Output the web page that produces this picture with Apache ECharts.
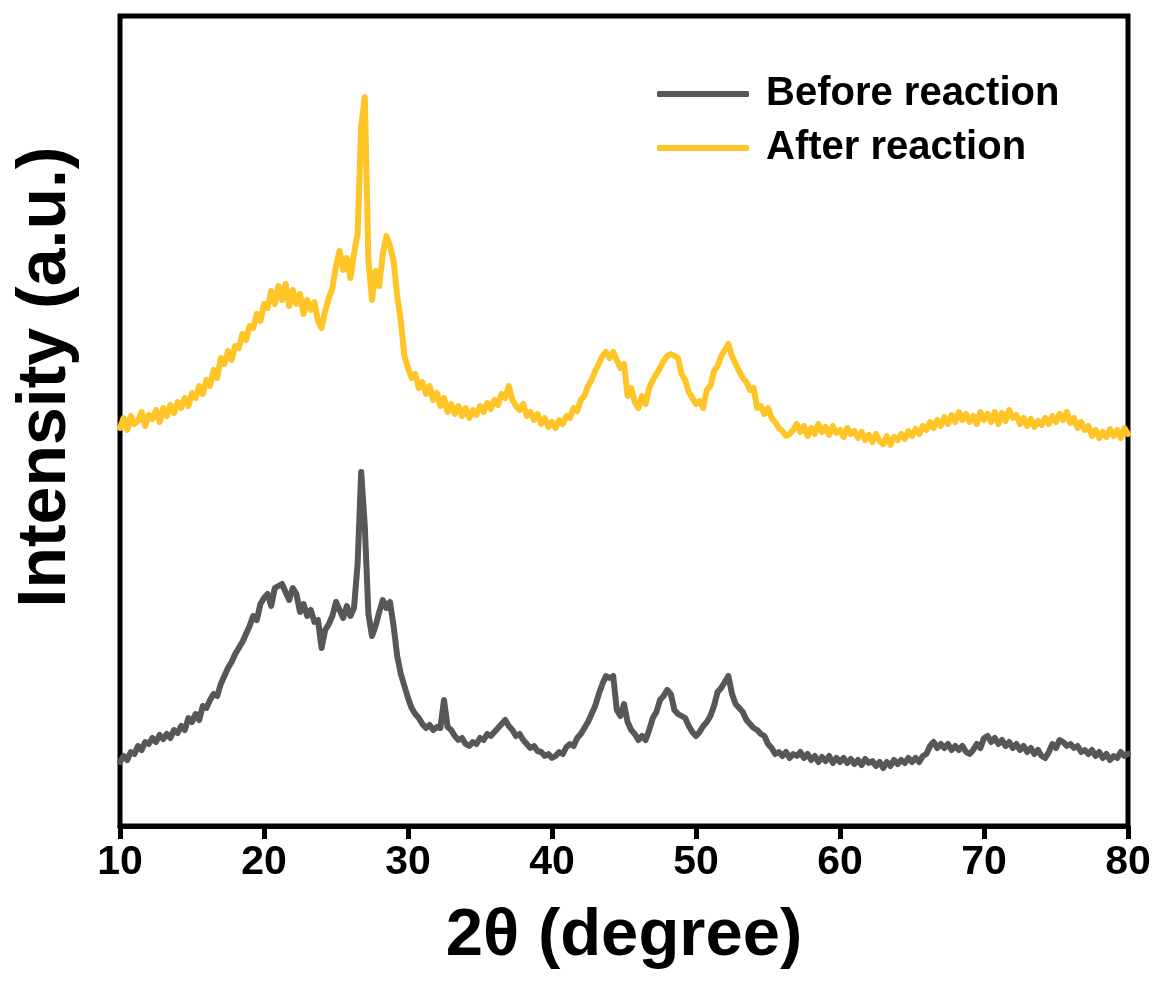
<!DOCTYPE html>
<html>
<head>
<meta charset="utf-8">
<title>XRD before / after reaction</title>
<script src="https://cdn.jsdelivr.net/npm/echarts@6/dist/echarts.min.js"></script>
<style>
  html, body { margin: 0; padding: 0; background: #fff; }
  #chart { width: 1159px; height: 986px; }
</style>
</head>
<body>
<div id="chart"></div>
<script>
// scan range, 2θ from 10 to 80 at 0.25° step
const scanStart = 10;
const scanStep = 0.25;
const xTicks = [10, 20, 30, 40, 50, 60, 70, 80];
const seriesNames = ['Before reaction', 'After reaction'];

// intensities (a.u., curves already offset as in the figure)
const beforeY = [
  64, 70, 66, 74, 72,
  80, 76, 84, 82,   88, 84, 91, 87,   92, 88, 96, 93,   100, 96, 108, 104,
  112, 106, 120, 118,   126, 132, 130, 142,   150, 158, 164, 172,   178, 184, 192, 200,
  210, 206, 222, 228,   232, 220, 238, 240,   242, 234, 226, 238,   232, 214, 222, 210,
  216, 204, 206, 178,   196, 202, 210, 224,   216, 208, 220, 210,   218, 262, 354, 300,
  212, 190, 200, 214,   226, 218, 224, 200,   170, 152, 140, 128,   118, 112, 108, 102,
  98, 101, 96, 99,   98, 126, 99, 96,   90, 86, 88, 82,   80, 84, 82, 88,
  86, 92, 90, 94,   98, 102, 106, 100,   96, 90, 92, 86,   82, 78, 80, 75,
  74, 70, 72, 68,   70, 74, 72, 79,   82, 80, 88, 92,   98, 104, 112, 120,
  132, 142, 150, 148,   150, 116, 110, 122,   104, 96, 92, 86,   90, 86, 96, 108,
  114, 126, 130, 136,   132, 116, 112, 110,   108, 100, 94, 90,   94, 100, 104, 110,
  120, 134, 138, 144,   150, 132, 122, 118,   114, 106, 102, 98,   96, 92, 90, 82,
  78, 72, 74, 70,   74, 68, 72, 70,   74, 68, 72, 66,   70, 64, 69, 65,
  70, 63, 68, 64,   68, 63, 67, 62,   66, 61, 67, 63,   65, 60, 64, 58,
  64, 60, 66, 62,   66, 63, 68, 64,   68, 64, 70, 72,   80, 84, 78, 82,
  78, 82, 76, 80,   76, 80, 74, 72,   76, 82, 78, 88,   90, 84, 88, 82,
  86, 80, 84, 78,   82, 76, 80, 74,   78, 72, 76, 70,   68, 74, 82, 78,
  86, 84, 80, 82,   78, 80, 74, 76,   72, 76, 70, 74,   68, 72, 66, 70,
  68, 74, 70, 72
];

const afterY = [
  398, 408, 396, 410, 402,
  405, 414, 400, 411,   407, 416, 404, 418,   410, 421, 413, 424,   418, 428, 420, 433,
  428, 440, 432, 446,   440, 456, 448, 468,   462, 475, 466, 480,   478, 492, 486, 500,
  498, 512, 505, 522,   518, 535, 522, 540,   526, 542, 520, 536,   522, 532, 512, 526,
  516, 524, 505, 498,   515, 528, 538, 560,   575, 556, 568, 548,   572, 592, 700, 729,
  566, 526, 555, 540,   572, 590, 580, 565,   530, 505, 470, 458,   448, 452, 438, 444,
  432, 440, 426, 433,   420, 428, 414, 422,   412, 420, 410, 418,   408, 416, 411, 420,
  414, 423, 417, 426,   421, 432, 428, 440,   426, 420, 416, 422,   410, 414, 406, 412,
  402, 408, 399, 404,   398, 406, 402, 410,   408, 418, 415, 426,   430, 440, 446, 455,
  462, 470, 474, 468,   474, 466, 458, 462,   430, 438, 424, 418,   430, 422, 438, 446,
  452, 458, 465, 470,   472, 470, 468, 452,   446, 434, 428, 422,   425, 418, 436, 440,
  455, 460, 470, 476,   482, 470, 462, 455,   448, 444, 436, 438,   418, 420, 412, 418,
  408, 404, 398, 395,   390, 392, 396, 402,   394, 400, 390, 398,   392, 402, 394, 399,
  391, 400, 393, 396,   389, 398, 392, 395,   388, 394, 386, 391,   384, 392, 385, 382,
  390, 381, 389, 386,   392, 387, 395, 390,   397, 392, 400, 396,   404, 398, 406, 400,
  409, 402, 411, 404,   414, 406, 412, 404,   410, 402, 414, 406,   412, 404, 414, 402,
  413, 405, 416, 408,   411, 402, 408, 400,   407, 399, 405, 401,   408, 402, 410, 404,
  412, 406, 414, 403,   408, 398, 404, 396,   400, 390, 396, 388,   394, 389, 397, 390,
  396, 388, 398, 392
];

const colors = ['#575757', '#FFC425'];
const font = '"Liberation Sans", Arial, Helvetica, sans-serif';

function toPairs(ys) {
  return ys.map((v, i) => [scanStart + i * scanStep, v]);
}

const chart = echarts.init(document.getElementById('chart'), null, { renderer: 'canvas' });

chart.setOption({
  animation: false,
  color: colors,
  textStyle: { fontFamily: font },
  grid: {
    left: 120, right: 31, top: 16, bottom: 160,
    show: true,
    borderColor: '#000',
    borderWidth: 5,
  },
  legend: {
    orient: 'vertical',
    left: 652,
    top: 67,
    itemWidth: 92,
    itemHeight: 6,
    itemGap: 10,
    icon: 'roundRect',
    data: seriesNames,
    textStyle: {
      fontSize: 40,
      fontWeight: 'bold',
      color: '#000',
      lineHeight: 44,
      padding: [0, 0, 0, 12],
    },
  },
  xAxis: {
    type: 'value',
    min: xTicks[0],
    max: xTicks[xTicks.length - 1],
    interval: 10,
    name: '2θ (degree)',
    nameLocation: 'middle',
    nameGap: 77,
    nameTextStyle: { fontSize: 67, fontWeight: 'bold', color: '#000' },
    axisLine: { show: true, lineStyle: { color: '#000', width: 5 } },
    axisTick: { show: true, inside: false, length: 13, lineStyle: { color: '#000', width: 5 } },
    axisLabel: { fontSize: 41, fontWeight: 'bold', color: '#000', margin: 16 },
    splitLine: { show: false },
  },
  yAxis: {
    type: 'value',
    min: 0,
    max: 810,
    axisLine: { show: false },
    axisTick: { show: false },
    axisLabel: { show: false },
    splitLine: { show: false },
  },
  graphic: [
    {
      type: 'text',
      x: 46,
      y: 377,
      rotation: Math.PI / 2,
      style: {
        text: 'Intensity (a.u.)',
        font: 'bold 68px ' + font,
        fill: '#000',
        align: 'center',
        verticalAlign: 'middle',
      },
    },
  ],
  series: [
    {
      name: seriesNames[0],
      type: 'line',
      data: toPairs(beforeY),
      showSymbol: false,
      lineStyle: { width: 6, color: colors[0], join: 'round', cap: 'round' },
    },
    {
      name: seriesNames[1],
      type: 'line',
      data: toPairs(afterY),
      showSymbol: false,
      lineStyle: { width: 6, color: colors[1], join: 'round', cap: 'round' },
    },
  ],
});
</script>
</body>
</html>
